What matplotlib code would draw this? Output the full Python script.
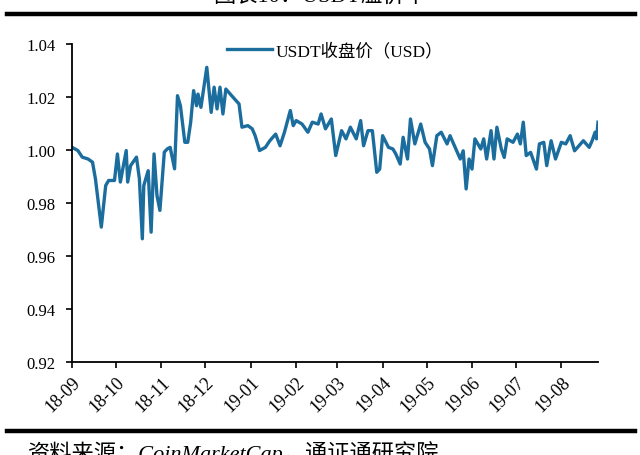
import matplotlib
matplotlib.use("Agg")
import matplotlib.pyplot as plt
import matplotlib.dates as mdates
from matplotlib.lines import Line2D
import pandas as pd

plt.rcParams['font.family'] = ['Liberation Serif', 'Noto Sans CJK SC', 'DejaVu Sans']

title = "图表10：USDT溢价率"
source = "资料来源：CoinMarketCap，通证通研究院"
series_label = "USDT收盘价（USD）"

dates = [
    "2018-09-01", "2018-09-05", "2018-09-08", "2018-09-12", "2018-09-15", "2018-09-17",
    "2018-09-21", "2018-09-24", "2018-09-26", "2018-09-30", "2018-10-02", "2018-10-04",
    "2018-10-08", "2018-10-09", "2018-10-11", "2018-10-15", "2018-10-17", "2018-10-19",
    "2018-10-20", "2018-10-23", "2018-10-25", "2018-10-27", "2018-10-29", "2018-10-31",
    "2018-11-03", "2018-11-05", "2018-11-07", "2018-11-10", "2018-11-12", "2018-11-14",
    "2018-11-17", "2018-11-19", "2018-11-21", "2018-11-23", "2018-11-25", "2018-11-26",
    "2018-11-28", "2018-11-30", "2018-12-02", "2018-12-05", "2018-12-07", "2018-12-09",
    "2018-12-11", "2018-12-13", "2018-12-15", "2018-12-18", "2018-12-22", "2018-12-24",
    "2018-12-26", "2018-12-30", "2019-01-02", "2019-01-04", "2019-01-07", "2019-01-11",
    "2019-01-14", "2019-01-18", "2019-01-21", "2019-01-24", "2019-01-28", "2019-01-30",
    "2019-02-01", "2019-02-05", "2019-02-09", "2019-02-12", "2019-02-16", "2019-02-18",
    "2019-02-21", "2019-02-25", "2019-02-28", "2019-03-04", "2019-03-07", "2019-03-10",
    "2019-03-14", "2019-03-17", "2019-03-19", "2019-03-22", "2019-03-25", "2019-03-28",
    "2019-03-30", "2019-04-01", "2019-04-05", "2019-04-08", "2019-04-10", "2019-04-13",
    "2019-04-15", "2019-04-18", "2019-04-20", "2019-04-23", "2019-04-27", "2019-04-30",
    "2019-05-03", "2019-05-05", "2019-05-08", "2019-05-11", "2019-05-15", "2019-05-17",
    "2019-05-20", "2019-05-24", "2019-05-26", "2019-05-28", "2019-05-30", "2019-06-01",
    "2019-06-03", "2019-06-07", "2019-06-09", "2019-06-11", "2019-06-14", "2019-06-16",
    "2019-06-18", "2019-06-21", "2019-06-23", "2019-06-25", "2019-06-29", "2019-07-02",
    "2019-07-04", "2019-07-06", "2019-07-08", "2019-07-11", "2019-07-15", "2019-07-17",
    "2019-07-20", "2019-07-22", "2019-07-25", "2019-07-28", "2019-08-01", "2019-08-04",
    "2019-08-07", "2019-08-10", "2019-08-13", "2019-08-16", "2019-08-20", "2019-08-22",
    "2019-08-24", "2019-08-25", "2019-08-26",
]
prices = [
    1.0010, 0.9998, 0.9973, 0.9966, 0.9954, 0.9891,
    0.9709, 0.9866, 0.9885, 0.9885, 0.9985, 0.9879,
    0.9998, 0.9879, 0.9941, 0.9973, 0.9891, 0.9665,
    0.9866, 0.9922, 0.9690, 0.9985, 0.9828, 0.9772,
    0.9992, 1.0004, 1.0010, 0.9929, 1.0205, 1.0167,
    1.0029, 1.0029, 1.0105, 1.0224, 1.0167, 1.0211,
    1.0161, 1.0237, 1.0312, 1.0142, 1.0237, 1.0155,
    1.0237, 1.0136, 1.0230, 1.0211, 1.0186, 1.0174,
    1.0086, 1.0092, 1.0080, 1.0054, 0.9998, 1.0010,
    1.0035, 1.0060, 1.0016, 1.0067, 1.0149, 1.0092,
    1.0111, 1.0098, 1.0067, 1.0105, 1.0098, 1.0136,
    1.0080, 1.0117, 0.9979, 1.0073, 1.0042, 1.0086,
    1.0042, 1.0111, 1.0016, 1.0073, 1.0073, 0.9916,
    0.9928, 1.0054, 1.0010, 1.0004, 0.9985, 0.9947,
    1.0048, 0.9966, 1.0117, 1.0023, 1.0098, 1.0029,
    1.0004, 0.9941, 1.0054, 1.0067, 1.0023, 1.0054,
    1.0016, 0.9966, 0.9997, 0.9853, 0.9966, 0.9928,
    1.0042, 1.0004, 1.0042, 0.9966, 1.0073, 0.9966,
    1.0086, 1.0004, 0.9972, 1.0042, 1.0029, 1.0060,
    1.0023, 1.0105, 0.9979, 0.9991, 0.9928, 1.0023,
    1.0029, 0.9941, 1.0035, 0.9966, 1.0029, 1.0023,
    1.0054, 0.9997, 1.0016, 1.0035, 1.0010, 1.0035,
    1.0067, 1.0042, 1.0105,
]
y_ticks = [0.92, 0.94, 0.96, 0.98, 1.00, 1.02, 1.04]

x = pd.to_datetime(dates)

fig = plt.figure(figsize=(6.4, 4.56), dpi=100)
ax = fig.add_axes([72 / 640, 1 - 363 / 456, (598 - 72) / 640, (363 - 45) / 456])

ax.plot(x, prices, color="#1b6d9e", lw=2.4, label=series_label, solid_joinstyle="round")

ax.set_xlim(pd.Timestamp("2018-09-01"), pd.Timestamp("2019-08-26"))
ax.set_ylim(0.92, 1.04)
ax.set_yticks(y_ticks)
ax.set_yticklabels([f"{v:.2f}" for v in y_ticks])
ax.xaxis.set_major_locator(mdates.MonthLocator())
ax.xaxis.set_major_formatter(mdates.DateFormatter("%y-%m"))
plt.setp(ax.get_xticklabels(), rotation=45, ha="right", rotation_mode="anchor")

for s in ["top", "right"]:
    ax.spines[s].set_visible(False)
for s in ["left", "bottom"]:
    ax.spines[s].set_linewidth(1.3)
    ax.spines[s].set_color("black")
ax.tick_params(axis="both", direction="out", length=4, width=1.2, colors="black")
ax.tick_params(axis="y", pad=8, labelsize=12)
ax.tick_params(axis="x", pad=4, labelsize=13)

leg = ax.legend(loc="upper center", bbox_to_anchor=(0.5, 1.055), frameon=False,
                fontsize=12.5, handlelength=2.6, handletextpad=0.2)

# header / footer rules and texts
fig.add_artist(Line2D([7 / 640, 635 / 640], [1 - 15 / 456, 1 - 15 / 456], color="black", lw=3.2))
fig.add_artist(Line2D([7 / 640, 635 / 640], [1 - 432 / 456, 1 - 432 / 456], color="black", lw=3.2))
fig.text(0.5, 1 - 8 / 456, title, ha="center", va="bottom", fontsize=16)
fig.text(28 / 640, 1 - 441 / 456, source, ha="left", va="top", fontsize=16, style="italic")

fig.savefig("out.png", dpi=100)
